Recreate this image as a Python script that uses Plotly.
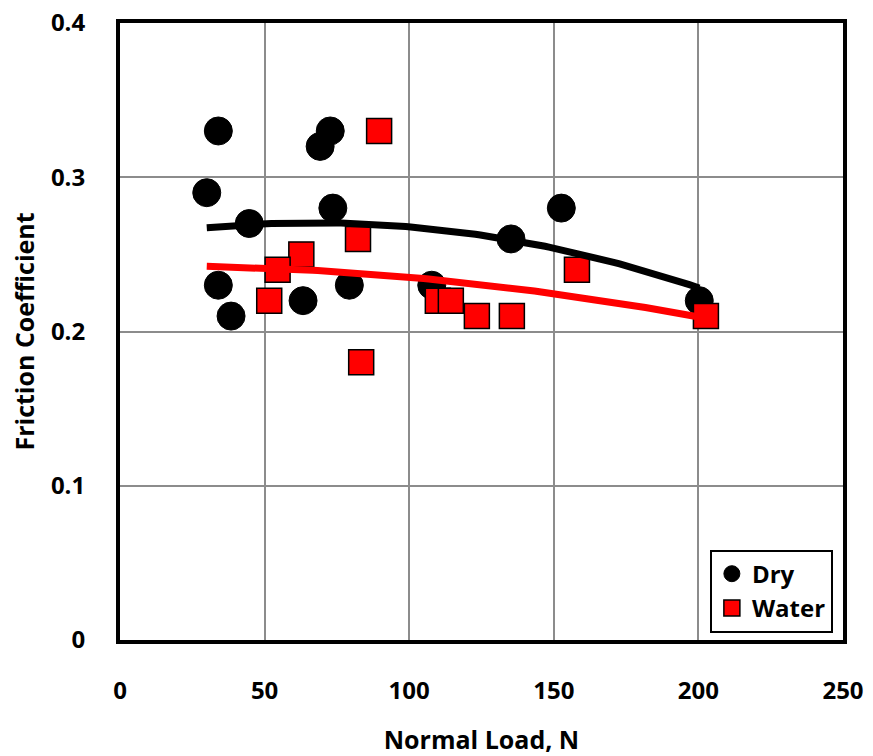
import numpy as np
import plotly.graph_objects as go

dry_x = [34, 72.7, 69.2, 30, 44.7, 73.6, 34, 38.4, 63.3, 79.3, 107.8, 135.2, 152.6, 200.3]
dry_y = [0.33, 0.33, 0.32, 0.29, 0.27, 0.28, 0.23, 0.21, 0.22, 0.23, 0.23, 0.26, 0.28, 0.22]
water_x = [89.6, 62.7, 54.5, 51.6, 82.3, 83.4, 109.9, 114.4, 123.4, 135.5, 158, 202.6]
water_y = [0.33, 0.25, 0.24, 0.22, 0.26, 0.18, 0.22, 0.22, 0.21, 0.21, 0.24, 0.21]

x_ticks = [0, 50, 100, 150, 200, 250]
y_ticks = [0, 0.1, 0.2, 0.3, 0.4]
y_tick_text = ["0", "0.1", "0.2", "0.3", "0.4"]

FONT = "Open Sans"

def trend(xs, ys, deg, x0, x1):
    c = np.polyfit(xs, ys, deg)
    xx = np.linspace(x0, x1, 100)
    return xx, np.polyval(c, xx)

x_start = min(min(dry_x), min(water_x))
dx, dy = trend(dry_x, dry_y, 2, x_start, max(dry_x))
wx, wy = trend(water_x, water_y, 2, x_start, max(water_x))

fig = go.Figure()
fig.add_trace(go.Scatter(x=dry_x, y=dry_y, mode="markers", name="Dry",
                         marker=dict(symbol="circle", size=28, color="black",
                                     line=dict(color="black", width=1))))
fig.add_trace(go.Scatter(x=water_x, y=water_y, mode="markers", name="Water",
                         marker=dict(symbol="square", size=25, color="#ff0000",
                                     line=dict(color="black", width=1.5))))
fig.add_trace(go.Scatter(x=dx, y=dy, mode="lines", showlegend=False,
                         line=dict(color="black", width=7)))
fig.add_trace(go.Scatter(x=wx, y=wy, mode="lines", showlegend=False,
                         line=dict(color="#ff0000", width=7)))

fig.update_layout(
    width=873, height=756,
    margin=dict(l=120, r=30, t=23, b=116),
    paper_bgcolor="white", plot_bgcolor="white",
    font=dict(family=FONT, size=24, color="black"),
    showlegend=True,
    legend=dict(x=0.986, y=0.012, xanchor="right", yanchor="bottom",
                bordercolor="black", borderwidth=2, bgcolor="white",
                font=dict(family=FONT, size=24, color="black", weight="bold"),
                itemsizing="trace", tracegroupgap=0, itemwidth=30),
    xaxis=dict(range=[0, 250], tickvals=x_ticks, ticks="", automargin=False,
               showgrid=True, gridcolor="#8c8c8c", gridwidth=2,
               showline=True, linecolor="black", linewidth=4, mirror=True,
               zeroline=False, ticklabelstandoff=26,
               tickfont=dict(family=FONT, size=24, weight="bold"),
               title=dict(text="<b>Normal Load, N</b>", font=dict(family=FONT, size=25), standoff=32)),
    yaxis=dict(range=[0, 0.4], tickvals=y_ticks, ticktext=y_tick_text, ticks="", automargin=False,
               showgrid=True, gridcolor="#8c8c8c", gridwidth=2,
               showline=True, linecolor="black", linewidth=4, mirror=True,
               zeroline=False, ticklabelstandoff=26,
               tickfont=dict(family=FONT, size=24, weight="bold"),
               title=dict(text="<b>Friction Coefficient</b>", font=dict(family=FONT, size=25), standoff=10)),
)

fig.write_html("out.html")
